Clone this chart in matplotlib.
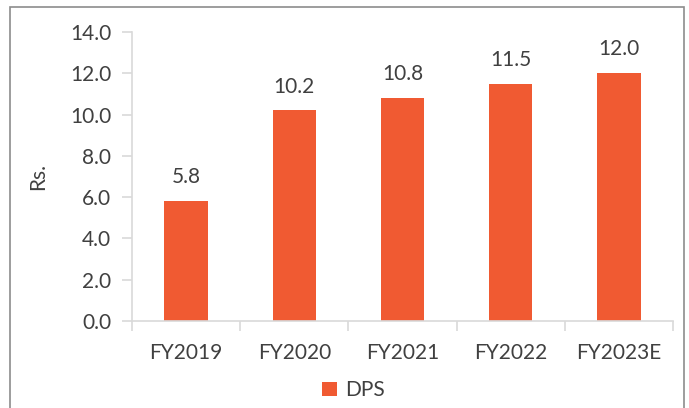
import matplotlib.pyplot as plt
import numpy as np

years = ["FY2019", "FY2020", "FY2021", "FY2022", "FY2023E"]
dps = [5.8, 10.2, 10.8, 11.5, 12.0]

bar_color = "#F05A32"
grey_text = "#404040"
axis_grey = "#D9D9D9"

plt.rcParams['font.family'] = ['Lato', 'DejaVu Sans']

fig = plt.figure(figsize=(6.89, 4.08), dpi=100)
ax = fig.add_axes([132 / 689, 1 - 321 / 408, 541 / 689, 289 / 408])

x = np.arange(len(years))
ax.bar(x, dps, width=0.4, color=bar_color, label="DPS", zorder=2)

for xi, v in zip(x, dps):
    ax.annotate(f"{v:.1f}", (xi, v), xytext=(0, 10), textcoords="offset points",
                ha="center", va="bottom", fontsize=15, color=grey_text)

ax.set_xlim(-0.5, len(years) - 0.5)
ax.set_ylim(0, 14)
ax.set_yticks(np.arange(0, 14.1, 2))
ax.set_yticklabels([f"{t:.1f}" for t in np.arange(0, 14.1, 2)])
ax.set_xticks(x)
ax.set_xticklabels(years)

# category boundary ticks on the x axis
ax.set_xticks(np.arange(-0.5, len(years), 1), minor=True)
ax.tick_params(axis="x", which="major", length=0, pad=16, labelsize=15, colors=grey_text)
ax.tick_params(axis="x", which="minor", length=7, width=1.2, color=axis_grey, direction="out")
ax.tick_params(axis="y", length=7, width=1.2, color=axis_grey, labelsize=15,
               labelcolor=grey_text, pad=8)

for side in ["top", "right"]:
    ax.spines[side].set_visible(False)
for side in ["left", "bottom"]:
    ax.spines[side].set_color(axis_grey)
    ax.spines[side].set_linewidth(1.2)

ax.set_ylabel("Rs.", fontsize=15, color=grey_text, labelpad=16)

ax.legend(loc="upper center", bbox_to_anchor=(0.41, -0.155), frameon=False,
          fontsize=15, handlelength=0.7, handleheight=0.7, handletextpad=0.4,
          labelcolor=grey_text, borderpad=0.2)

# thin frame around the whole figure
fig.patches.append(plt.Rectangle((10 / 689, -0.02), 674 / 689, 1 - 7 / 408 + 0.02,
                                 transform=fig.transFigure, fill=False,
                                 edgecolor="#8C8C8C", linewidth=1.2))

fig.savefig("out.png", dpi=100)
